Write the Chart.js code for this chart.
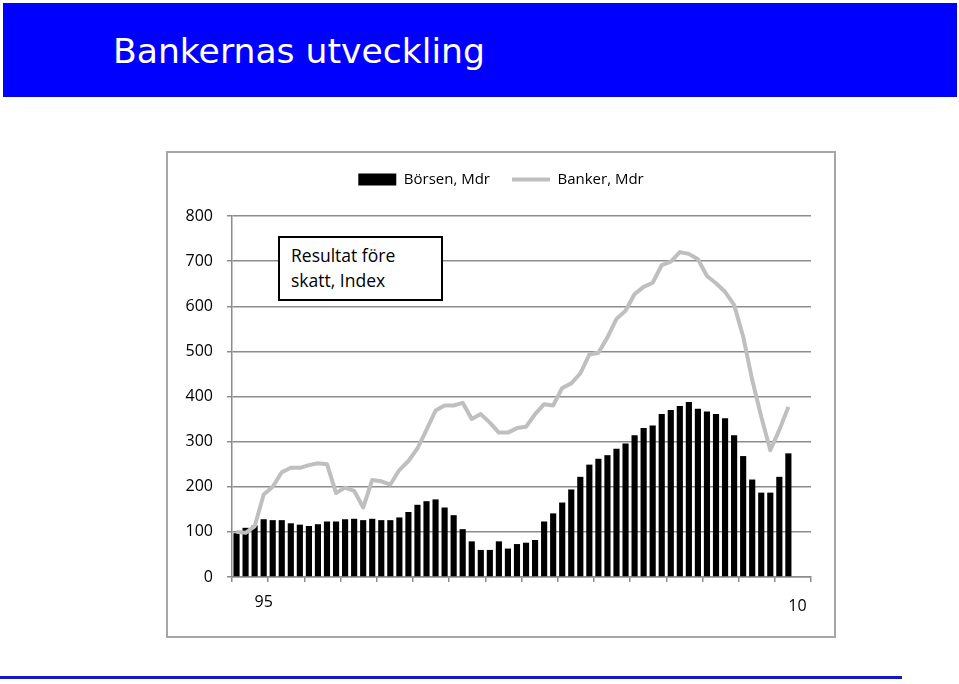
<!DOCTYPE html>
<html lang="sv">
<head>
<meta charset="utf-8">
<title>Bankernas utveckling</title>
<script src="https://cdn.jsdelivr.net/npm/chart.js@4.4.1/dist/chart.umd.min.js"></script>
<style>
  html, body { margin: 0; padding: 0; background: #fff; }
  body { width: 959px; height: 684px; position: relative; overflow: hidden; }
  .banner { position: absolute; left: 3px; top: 3px; width: 954px; height: 94px; background: #0000fe; }
  .banner h1 {
    position: absolute; left: 110px; top: 31px; margin: 0;
    font: normal 34.6px/34px 'DejaVu Sans', sans-serif; color: #fff; white-space: nowrap;
  }
  .frame {
    position: absolute; left: 166px; top: 151px; width: 670px; height: 487px;
    box-sizing: border-box; border: 2px solid #a6a6a6;
  }
  #chart { position: absolute; left: 168px; top: 150px; }
  .note {
    position: absolute; left: 278px; top: 236px; width: 165px; height: 65px;
    box-sizing: border-box; border: 2px solid #000; background: #fff;
    padding: 5px 0 0 11px; font: 17.5px/25px 'Open Sans', sans-serif; color: #000;
  }
  .rule { position: absolute; left: 0; top: 676px; width: 902px; height: 3px; background: #1616c4; }
</style>
</head>
<body>
<div class="banner"><h1>Bankernas utveckling</h1></div>
<div class="frame"></div>
<canvas id="chart" width="666" height="486"></canvas>
<div class="note">Resultat före<br>skatt, Index</div>
<div class="rule"></div>

<script>
// Quarterly data 1995 Q1 – 2010 Q2, axis runs to end of 2010
const years = [1995, 1996, 1997, 1998, 1999, 2000, 2001, 2002,
  2003, 2004, 2005, 2006, 2007, 2008, 2009, 2010];
const quarters = ['Q1', 'Q2', 'Q3', 'Q4'];
const categories = years.flatMap((y) => quarters.map((q) => `${y} ${q}`));

// Börsen, Mdr (bars), index
const borsen = [97, 109, 114, 128, 126, 126, 119, 116, 113, 117, 123, 123, 128, 129, 126, 129,
  126, 126, 132, 144, 160, 168, 172, 154, 137, 106, 79, 60, 60, 79, 63, 73,
  76, 82, 123, 141, 165, 194, 222, 249, 262, 270, 284, 296, 314, 330, 336, 361,
  370, 379, 388, 373, 367, 361, 352, 314, 268, 216, 187, 187, 222, 274];

// Banker, Mdr (line), index
const banker = [100, 98, 112, 183, 200, 232, 242, 242, 248, 252, 250, 186, 198, 191, 154, 215,
  212, 205, 237, 257, 285, 326, 369, 380, 380, 386, 350, 361, 342, 320, 320, 330,
  333, 361, 383, 380, 419, 429, 451, 493, 497, 531, 572, 590, 627, 643, 652, 691,
  699, 720, 716, 704, 667, 651, 632, 603, 533, 437, 355, 281, 326, 377];

// only two year labels are shown on the x axis
const xTickAt = ['1995 Q4', '2010 Q3'];
const xTickText = ['95', '10'];

const yTicks = [0, 100, 200, 300, 400, 500, 600, 700, 800];

const GRID = '#8c8c8c';
const FONT = '"Open Sans", Lato, sans-serif';

// pushes the plot down below the legend
const legendGap = {
  id: 'legendGap',
  beforeInit(chart) {
    const fit = chart.legend.fit;
    chart.legend.fit = function () {
      fit.call(this);
      this.height += 19;
    };
  },
};

new Chart(document.getElementById('chart'), {
  type: 'bar',
  data: {
    labels: categories,
    datasets: [
      {
        label: 'Börsen, Mdr',
        data: borsen,
        backgroundColor: '#000',
        borderWidth: 0,
        categoryPercentage: 1,
        barPercentage: 0.68,
        order: 1,
      },
      {
        type: 'line',
        label: 'Banker, Mdr',
        data: banker,
        borderColor: '#bfbfbf',
        backgroundColor: '#bfbfbf',
        borderWidth: 4,
        pointRadius: 0,
        tension: 0,
        borderJoinStyle: 'round',
        order: 0,
      },
    ],
  },
  options: {
    responsive: false,
    devicePixelRatio: 1,
    animation: false,
    layout: { padding: 0 },
    plugins: {
      tooltip: { enabled: false },
      legend: {
        position: 'top',
        sort: (a, b) => a.datasetIndex - b.datasetIndex,
        labels: {
          usePointStyle: true,
          pointStyleWidth: 38,
          boxHeight: 12,
          padding: 22,
          color: '#000',
          font: { family: FONT, size: 15 },
          generateLabels(chart) {
            return chart.data.datasets.map((ds, i) => ({
              text: ds.label,
              datasetIndex: i,
              fillStyle: i === 0 ? '#000' : '#bfbfbf',
              strokeStyle: i === 0 ? '#000' : '#bfbfbf',
              lineWidth: i === 0 ? 0 : 4,
              pointStyle: i === 0 ? 'rect' : 'line',
              fontColor: '#000',
            }));
          },
        },
      },
    },
    scales: {
      x: {
        offset: true,
        afterFit(scale) { scale.height = 59; },
        grid: {
          offset: true,
          drawOnChartArea: false,
          tickLength: 5,
          lineWidth: 1.5,
          color: (c) => (c.index === undefined || c.index % 4 === 0 ? GRID : 'rgba(0,0,0,0)'),
        },
        border: { color: GRID, width: 1.5 },
        ticks: {
          autoSkip: false,
          maxRotation: 0,
          padding: 11,
          color: '#000',
          font: (c) => ({ family: FONT, size: 16, lineHeight: c.index === 62 ? '9px' : 1.2 }),
          callback(value) {
            const k = xTickAt.indexOf(categories[value]);
            if (k < 0) return '';
            return k === 1 ? ['', xTickText[k]] : xTickText[k];
          },
        },
      },
      y: {
        min: 0,
        max: 800,
        afterFit(scale) { scale.width = 64; },
        afterBuildTicks(scale) { scale.ticks = yTicks.map((v) => ({ value: v })); },
        grid: { color: GRID, lineWidth: 1.5, tickLength: 5 },
        border: { color: GRID, width: 1.5 },
        ticks: {
          padding: 14,
          color: '#000',
          font: { family: FONT, size: 16 },
        },
      },
      // empty right-hand axis: keeps the plot off the right edge so the legend centres in the frame
      yRight: {
        position: 'right',
        min: 0,
        max: 800,
        afterFit(scale) { scale.width = 23; },
        grid: { display: false },
        border: { display: false },
        ticks: { display: false },
      },
    },
  },
  plugins: [legendGap],
});
</script>
</body>
</html>
